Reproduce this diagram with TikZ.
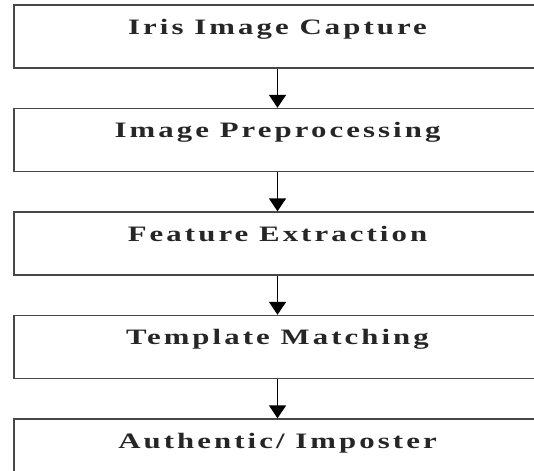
\documentclass[tikz,border=0pt]{standalone}
\usepackage{fontspec}
\setmainfont{Liberation Serif}
\newfontfamily\stagefont[LetterSpace=10]{Liberation Serif Bold}
\usetikzlibrary{arrows.meta}
\tikzset{
  stagebox/.style={draw=black!72, line width=1.3pt, rectangle,
    minimum width=527pt, minimum height=63pt, inner sep=0pt},
  stagetext/.style={anchor=base, inner sep=0pt, text=black!85,
    font=\stagefont\fontsize{22}{26}\selectfont},
  flow/.style={draw=black, line width=1.5pt,
    -{Triangle[width=17pt, length=13pt]}}
}
\newcommand{\widetext}[1]{\scalebox{1.4}[1]{#1}}
\begin{document}
\begin{tikzpicture}[x=1pt, y=-1pt]
  \clip (0,0) rectangle (534,470);
  \fill[white] (0,0) rectangle (534,470);
  % five processing stages, top to bottom
  \node[stagebox] (s1) at (277.5, 36.5) {};
  \node[stagebox] (s2) at (277.5, 140) {};
  \node[stagebox] (s3) at (277.5, 243.5) {};
  \node[stagebox] (s4) at (277.5, 347) {};
  \node[stagebox] (s5) at (277.5, 450.5) {};
  % stage captions, set in the upper part of each box
  \node[stagetext] (t1) at ([yshift=-30pt]s1.north) {\widetext{Iris Image Capture}};
  \node[stagetext] (t2) at ([yshift=-30pt]s2.north) {\widetext{Image Preprocessing}};
  \node[stagetext] (t3) at ([yshift=-30pt]s3.north) {\widetext{Feature Extraction}};
  \node[stagetext] (t4) at ([yshift=-30pt]s4.north) {\widetext{Template Matching}};
  \node[stagetext] (t5) at ([yshift=-30pt]s5.north) {\widetext{Authentic/ Imposter}};
  % connectors between consecutive stages
  \draw[flow] (s1.south) -- (s2.north);
  \draw[flow] (s2.south) -- (s3.north);
  \draw[flow] (s3.south) -- (s4.north);
  \draw[flow] (s4.south) -- (s5.north);
\end{tikzpicture}
\end{document}
